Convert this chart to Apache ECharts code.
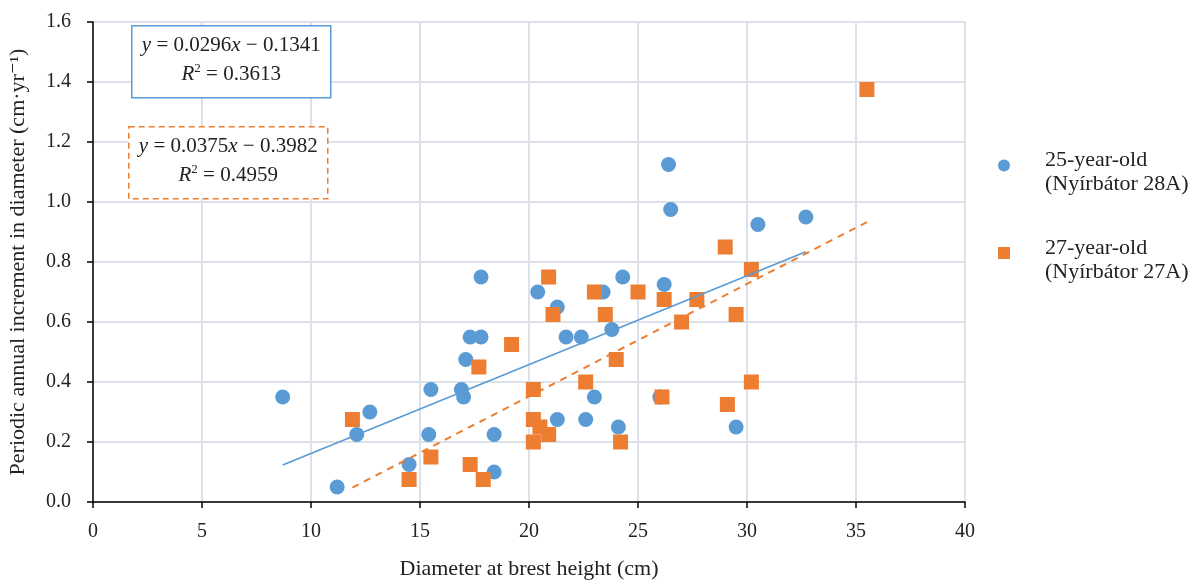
<!DOCTYPE html>
<html>
<head>
<meta charset="utf-8">
<script src="https://cdn.jsdelivr.net/npm/echarts@6/dist/echarts.min.js"></script>
<style>
  html, body { margin: 0; padding: 0; background: #fff; }
  #chart { width: 1195px; height: 583px; }
</style>
</head>
<body>
<div id="chart"></div>
<script>
// 25-year-old stand (Nyírbátor 28A)
const blueX = [8.7, 11.2, 12.1, 12.7, 14.5, 15.4, 15.5, 16.9, 17.0, 17.1, 17.3, 17.8, 17.8, 18.4, 18.4,
    20.4, 21.3, 21.3, 21.7, 22.4, 22.6, 23.0, 23.4, 23.8, 24.1, 24.3, 26.0, 26.2, 26.4, 26.5, 29.5, 30.5, 32.7];
const blueY = [0.35, 0.05, 0.225, 0.30, 0.125, 0.225, 0.375, 0.375, 0.35, 0.475, 0.55, 0.55, 0.75, 0.225, 0.10,
    0.70, 0.65, 0.275, 0.55, 0.55, 0.275, 0.35, 0.70, 0.575, 0.25, 0.75, 0.35, 0.725, 1.125, 0.975, 0.25, 0.925, 0.95];
// 27-year-old stand (Nyírbátor 27A)
const orangeX = [11.9, 14.5, 15.5, 17.3, 17.7, 17.9, 19.2, 20.2, 20.2, 20.2, 20.5, 20.9, 20.9, 21.1, 22.6,
    23.0, 23.5, 24.0, 24.2, 25.0, 26.1, 26.2, 27.0, 27.7, 29.0, 29.1, 29.5, 30.2, 30.2, 35.5];
const orangeY = [0.275, 0.075, 0.15, 0.125, 0.45, 0.075, 0.525, 0.375, 0.275, 0.20, 0.25, 0.225, 0.75, 0.625, 0.40,
    0.70, 0.625, 0.475, 0.20, 0.70, 0.35, 0.675, 0.60, 0.675, 0.85, 0.325, 0.625, 0.775, 0.40, 1.375];

// trendline coefficients as printed on the chart: [slope, intercept]
const blueFit = [0.0296, -0.1341];
const orangeFit = [0.0375, -0.3982];
const blueR2 = '0.3613';
const orangeR2 = '0.4959';

const xTicks = [0, 5, 10, 15, 20, 25, 30, 35, 40];
const yTicks = ['0.0', '0.2', '0.4', '0.6', '0.8', '1.0', '1.2', '1.4', '1.6'];

const seriesNames = ['25-year-old\n(Nyírbátor 28A)', '27-year-old\n(Nyírbátor 27A)'];

const BLUE = '#5B9BD5';
const ORANGE = '#ED7D31';
const FONT = '"Liberation Serif", "DejaVu Serif", serif';

const pairs = (xs, ys) => xs.map((x, i) => [x, ys[i]]);
const fitLine = (xs, fit) => {
    const lo = Math.min(...xs), hi = Math.max(...xs);
    return [[lo, fit[0] * lo + fit[1]], [hi, fit[0] * hi + fit[1]]];
};
const fmt = (v) => (v < 0 ? '\u2212 ' : '+ ') + Math.abs(v).toFixed(4);

const eqRich = {
    i: { fontStyle: 'italic', fontFamily: FONT, fontSize: 21, lineHeight: 26 },
    sup: { fontFamily: FONT, fontSize: 13, verticalAlign: 'top', lineHeight: 13 }
};
// equation box: rect + two centred lines of text
const eqBox = (left, top, color, dash, fit, r2) => ({
    type: 'group',
    left: left,
    top: top,
    z: 100,
    children: [
        {
            type: 'rect',
            z: 100,
            shape: { x: 0, y: 0, width: 199, height: 72 },
            style: { fill: '#fff', stroke: color, lineWidth: 1.5, lineDash: dash }
        },
        {
            type: 'text',
            z: 101,
            x: 99.5, y: 20,
            style: {
                text: '{i|y} = ' + fit[0].toFixed(4) + '{i|x} ' + fmt(fit[1]),
                align: 'center', verticalAlign: 'middle',
                font: '21px ' + FONT, fill: '#222', lineHeight: 26,
                rich: eqRich
            }
        },
        {
            type: 'text',
            z: 101,
            x: 99.5, y: 49,
            style: {
                text: '{i|R}{sup|2} = ' + r2,
                align: 'center', verticalAlign: 'middle',
                font: '21px ' + FONT, fill: '#222', lineHeight: 26,
                rich: eqRich
            }
        }
    ]
});

const myChart = echarts.init(document.getElementById('chart'));

let option = {
    backgroundColor: '#fff',
    animation: false,
    grid: { left: 93, right: 230, top: 22, bottom: 81, outerBoundsMode: 'none' },
    xAxis: {
        type: 'value',
        min: xTicks[0],
        max: xTicks[xTicks.length - 1],
        interval: 5,
        name: 'Diameter at brest height (cm)',
        nameLocation: 'middle',
        nameGap: 56,
        nameTextStyle: { fontFamily: FONT, fontSize: 22, color: '#222' },
        axisLine: { show: true, lineStyle: { color: '#000', width: 1.5 } },
        axisTick: { show: true, inside: false, length: 6, lineStyle: { color: '#000', width: 1.5 } },
        axisLabel: {
            fontFamily: FONT, fontSize: 20, color: '#222', margin: 20,
            formatter: (v) => String(xTicks[xTicks.indexOf(v)])
        },
        splitLine: { show: true, lineStyle: { color: '#DDE1EA', width: 2 } }
    },
    yAxis: {
        type: 'value',
        min: 0,
        max: 1.6,
        interval: 0.2,
        name: 'Periodic annual increment in diameter (cm\u00B7yr\u207B\u00B9)',
        nameLocation: 'middle',
        nameGap: 64,
        nameTextStyle: { fontFamily: FONT, fontSize: 22, color: '#222' },
        axisLine: { show: true, lineStyle: { color: '#000', width: 1.5 } },
        axisTick: { show: true, inside: false, length: 6, lineStyle: { color: '#000', width: 1.5 } },
        axisLabel: {
            fontFamily: FONT, fontSize: 20, color: '#222', margin: 22,
            formatter: (v) => yTicks[Math.round(v / 0.2)]
        },
        splitLine: { show: true, lineStyle: { color: '#DDE1EA', width: 2 } }
    },
    legend: {
        orient: 'vertical',
        left: 998,
        top: 141,
        padding: 0,
        itemGap: 33,
        itemWidth: 12,
        itemHeight: 12,
        data: [
            { name: seriesNames[0], icon: 'circle' },
            { name: seriesNames[1], icon: 'rect' }
        ],
        // a short blank first line pushes the text a little below the icon, as in the source
        formatter: (name) => '{gap| }\n' + name.split('\n').map((s) => '{t|' + s + '}').join('\n'),
        textStyle: {
            fontFamily: FONT, fontSize: 22, color: '#222', padding: [0, 0, 0, 30],
            rich: {
                gap: { fontSize: 1, lineHeight: 14 },
                t: { fontFamily: FONT, fontSize: 22, color: '#222', lineHeight: 24 }
            }
        }
    },
    graphic: [
        eqBox(131, 25, BLUE, null, blueFit, blueR2),
        eqBox(128, 126, ORANGE, [6, 4], orangeFit, orangeR2)
    ],
    series: [
        {
            name: seriesNames[0],
            type: 'scatter',
            symbol: 'circle',
            symbolSize: 15,
            itemStyle: { color: BLUE, opacity: 1 },
            data: pairs(blueX, blueY),
            z: 2
        },
        {
            name: seriesNames[1],
            type: 'scatter',
            symbol: 'rect',
            symbolSize: 15,
            itemStyle: { color: ORANGE, opacity: 1 },
            data: pairs(orangeX, orangeY),
            z: 3
        },
        {
            name: 'trend-blue',
            type: 'line',
            data: fitLine(blueX, blueFit),
            showSymbol: false,
            symbol: 'none',
            lineStyle: { color: BLUE, width: 1.6 },
            z: 4
        },
        {
            name: 'trend-orange',
            type: 'line',
            data: fitLine(orangeX, orangeFit),
            showSymbol: false,
            symbol: 'none',
            lineStyle: { color: ORANGE, width: 2, type: [7, 6] },
            z: 4
        }
    ]
};
myChart.setOption(option);
window.addEventListener('resize', () => {
    myChart.resize();
});
</script>
</body>
</html>
